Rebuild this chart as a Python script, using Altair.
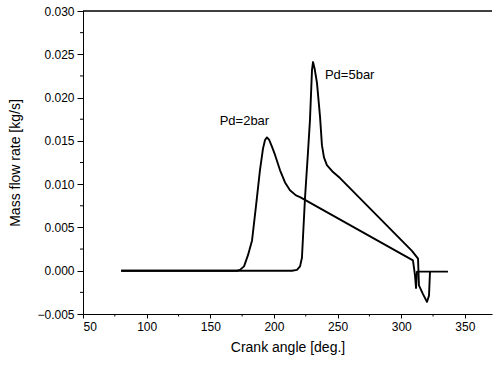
import altair as alt
import pandas as pd

# Pd = 2 bar
angle_2bar = [80, 171, 173.3, 176.5, 179.6, 182.8, 186.0, 189.0, 191.4, 193.0, 194.5, 196.3,
              198.5, 200.8, 204.8, 208.7, 212.6, 217.3, 220.5, 309.2, 310.8,
              311.6, 312.4, 336.7]
flow_2bar = [0.0, 0.0, 0.0001, 0.0005, 0.0018, 0.0035, 0.0076, 0.0116, 0.0141, 0.0151, 0.0154, 0.0151,
             0.0143, 0.0134, 0.0116, 0.0102, 0.0093, 0.0087, 0.0085, 0.0012, -0.0005,
             -0.0020, -0.0001, -0.0001]

# Pd = 5 bar
angle_5bar = [80, 214.2, 218.1, 220.5, 222.0, 222.9, 224.4, 226.7, 228.3, 229.9, 230.7, 232.0,
              233.8, 236.2, 237.7, 239.3, 241.6, 246.4, 251.9, 308.4, 313.2, 313.9, 317.1,
              320.2, 321.8, 322.6]
flow_5bar = [0.0, 0.0, 0.0001, 0.0005, 0.0015, 0.0041, 0.0084, 0.0136, 0.0174, 0.0232, 0.0241, 0.0233,
             0.0217, 0.0178, 0.0145, 0.0131, 0.0122, 0.0114, 0.0107, 0.0023, 0.0014, -0.0017, -0.0027,
             -0.0036, -0.0029, -0.0001]

label_text = ["Pd=2bar", "Pd=5bar"]
label_x = [176.8, 259.5]
label_y = [0.0173, 0.0226]

x_major = [50, 100, 150, 200, 250, 300, 350]
x_minor = [75, 125, 175, 225, 275, 325]
y_major = [-0.005, 0.0, 0.005, 0.010, 0.015, 0.020, 0.025, 0.030]
y_minor = [-0.0025, 0.0025, 0.0075, 0.0125, 0.0175, 0.0225, 0.0275]

W, H = 409, 303
FONT = "Liberation Sans"

df = pd.concat([
    pd.DataFrame({"angle": angle_2bar, "flow": flow_2bar, "series": "2bar", "order": range(len(angle_2bar))}),
    pd.DataFrame({"angle": angle_5bar, "flow": flow_5bar, "series": "5bar", "order": range(len(angle_5bar))}),
])
labels = pd.DataFrame({"text": label_text, "angle": label_x, "flow": label_y})

xs = alt.Scale(domain=[50, 371.3], nice=False, zero=False)
ys = alt.Scale(domain=[-0.005, 0.030], nice=False, zero=False)

x_axis = alt.Axis(values=x_major, format="d", title="Crank angle [deg.]", grid=False,
                  tickSize=4, labelFontSize=12, titleFontSize=14, labelPadding=3,
                  titlePadding=8, domainColor="black", tickColor="black", labelColor="black",
                  titleColor="black", labelFont=FONT, titleFont=FONT, titleFontWeight="normal")
y_axis = alt.Axis(values=y_major, format=".3f", title="Mass flow rate [kg/s]", grid=False,
                  tickSize=6, labelFontSize=12, titleFontSize=14, labelPadding=3,
                  titlePadding=14, domainColor="black", tickColor="black", labelColor="black",
                  titleColor="black", labelFont=FONT, titleFont=FONT, titleFontWeight="normal")

lines = alt.Chart(df).mark_line(color="black", strokeWidth=1.9, strokeJoin="round").encode(
    x=alt.X("angle:Q", scale=xs, axis=x_axis),
    y=alt.Y("flow:Q", scale=ys, axis=y_axis),
    detail="series:N",
    order="order:Q",
)

text = alt.Chart(labels).mark_text(fontSize=13, font=FONT, color="black").encode(
    x=alt.X("angle:Q", scale=xs),
    y=alt.Y("flow:Q", scale=ys),
    text="text:N",
)

xminor = alt.Chart(pd.DataFrame({"v": x_minor})).mark_rule(color="black", strokeWidth=1).encode(
    x=alt.X("v:Q", scale=xs), y=alt.value(H), y2=alt.value(H + 2.5))
yminor = alt.Chart(pd.DataFrame({"v": y_minor})).mark_rule(color="black", strokeWidth=1).encode(
    y=alt.Y("v:Q", scale=ys), x=alt.value(-3), x2=alt.value(0))
top = alt.Chart(pd.DataFrame({"v": [0]})).mark_rule(color="black", strokeWidth=1.5).encode(
    x=alt.value(0), x2=alt.value(W), y=alt.value(0))

chart = alt.layer(lines, text, xminor, yminor, top).properties(
    width=W, height=H,
    autosize=alt.AutoSizeParams(type="none"),
    padding={"left": 83, "top": 11, "right": 1, "bottom": 52},
    background="white",
).configure_view(stroke=None)

chart.save("out.html", embed_options={"renderer": "svg", "actions": False})
